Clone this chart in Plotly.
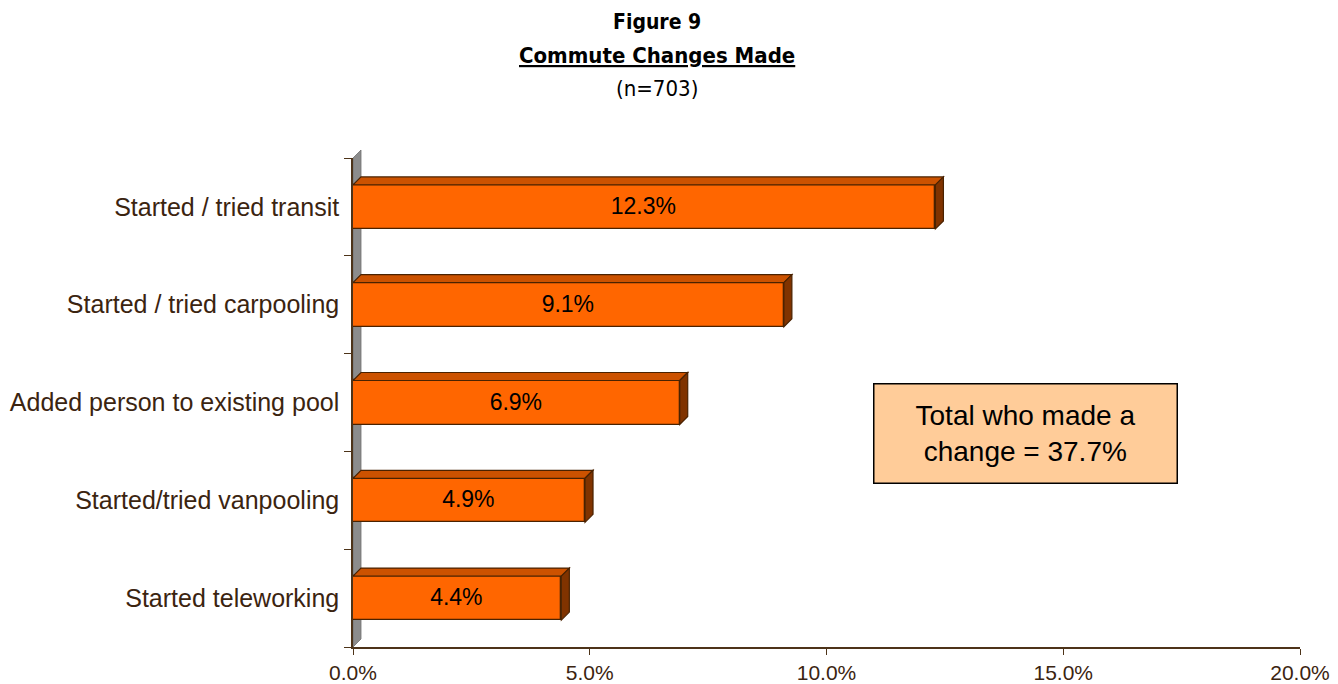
import plotly.graph_objects as go

# Survey results: share of respondents who made each commute change (%)
categories = [
    "Started / tried transit",
    "Started / tried carpooling",
    "Added person to existing pool",
    "Started/tried vanpooling",
    "Started teleworking",
]
values = [12.3, 9.1, 6.9, 4.9, 4.4]
total_text = "Total who made a<br>change = 37.7%"
x_ticks = [0, 5, 10, 15, 20]

# Canvas and plot-area geometry (pixels)
W, H = 1338, 684
M_L, M_R, M_T, M_B = 353, 38, 158, 37
PLOT_W = W - M_L - M_R
PLOT_H = H - M_T - M_B

X_MAX = 20.0
N = len(categories)
BAR_W = 0.45

# 3-D depth of the bars and the back wall, converted to data units
DEPTH_PX = 8
dx = DEPTH_PX * X_MAX / PLOT_W
dy = DEPTH_PX * N / PLOT_H

FRONT = "#FF6600"
TOP = "#CC5200"
SIDE = "#803300"
EDGE = "#4A2200"
AXIS = "#4D3319"
TEXT_BROWN = "#3B2410"
FONT = "Liberation Sans, Arial, sans-serif"
NARROW = "Liberation Sans Narrow, Arial Narrow, DejaVu Sans Condensed, sans-serif"

ypos = [N - 1 - i for i in range(N)]

fig = go.Figure()
fig.add_trace(go.Bar(
    x=values,
    y=ypos,
    orientation="h",
    width=BAR_W,
    marker=dict(color=FRONT, line=dict(color=EDGE, width=1.3)),
    text=[f"{v:.1f}%" for v in values],
    textposition="inside",
    insidetextanchor="middle",
    textfont=dict(family=FONT, size=23, color="black"),
    hoverinfo="skip",
))

shapes = []
# Grey back wall along the category axis
shapes.append(dict(
    type="path", xref="paper", yref="paper", layer="below",
    path=(f"M 0,0 L 0,1 L {dx / X_MAX},{1 + DEPTH_PX / PLOT_H} "
          f"L {dx / X_MAX},{DEPTH_PX / PLOT_H} Z"),
    fillcolor="#8C8C8C", line=dict(color="#6E6E6E", width=0.8),
))

# Top and end faces of each bar
for v, y in zip(values, ypos):
    y_top = y + BAR_W / 2
    y_bot = y - BAR_W / 2
    shapes.append(dict(
        type="path", xref="x", yref="y", layer="above",
        path=(f"M 0,{y_top} L {dx},{y_top + dy} L {v + dx},{y_top + dy} "
              f"L {v},{y_top} Z"),
        fillcolor=TOP, line=dict(color=EDGE, width=1.2),
    ))
    shapes.append(dict(
        type="path", xref="x", yref="y", layer="above",
        path=(f"M {v},{y_bot} L {v},{y_top} L {v + dx},{y_top + dy} "
              f"L {v + dx},{y_bot + dy} Z"),
        fillcolor=SIDE, line=dict(color=EDGE, width=1.2),
    ))

# Title block
cx = (657 - M_L) / PLOT_W
def py(px):
    return (H - M_B - px) / PLOT_H

title_font = dict(family=NARROW, size=22, color="black")
annotations = [
    dict(text="<b>Figure 9</b>", x=cx, y=py(22), xref="paper", yref="paper",
         xanchor="center", yanchor="middle", showarrow=False,
         font=dict(family=NARROW, size=21, color="black")),
    dict(text="<b><u>Commute Changes Made</u></b>", x=cx, y=py(55),
         xref="paper", yref="paper", xanchor="center", yanchor="middle",
         showarrow=False, font=title_font),
    dict(text="(n=703)", x=cx, y=py(88), xref="paper", yref="paper",
         xanchor="center", yanchor="middle", showarrow=False,
         font=title_font),
    # Summary box
    dict(text=total_text, x=14.2, y=1.68, xref="x", yref="y",
         xanchor="center", yanchor="middle",
         showarrow=False, align="center",
         font=dict(family=FONT, size=28, color="black"),
         bgcolor="#FFCC99", bordercolor="black", borderwidth=1.5,
         borderpad=2, width=298, height=94),
]

fig.update_layout(
    width=W, height=H,
    margin=dict(l=M_L, r=M_R, t=M_T, b=M_B, autoexpand=False),
    paper_bgcolor="white", plot_bgcolor="white",
    showlegend=False,
    shapes=shapes,
    annotations=annotations,
    bargap=0,
)

fig.update_xaxes(
    range=[0, X_MAX],
    tickvals=x_ticks,
    ticktext=[f"{t:.1f}%" for t in x_ticks],
    ticks="outside", ticklen=6, tickwidth=1.3, tickcolor=AXIS,
    showline=True, linecolor=AXIS, linewidth=1.5,
    showgrid=False, zeroline=False, automargin=False,
    tickfont=dict(family=FONT, size=21, color=TEXT_BROWN),
)

fig.update_yaxes(
    range=[-0.5, N - 0.5],
    tickvals=ypos,
    ticktext=categories,
    ticks="outside", ticklen=7, tickcolor="rgba(0,0,0,0)",
    minor=dict(tick0=-0.5, dtick=1, ticks="outside", ticklen=7,
               tickwidth=1.3, tickcolor=AXIS),
    showline=True, linecolor=AXIS, linewidth=1.5,
    showgrid=False, zeroline=False, automargin=False,
    tickfont=dict(family=FONT, size=25, color=TEXT_BROWN),
)

fig.write_html("out.html")
